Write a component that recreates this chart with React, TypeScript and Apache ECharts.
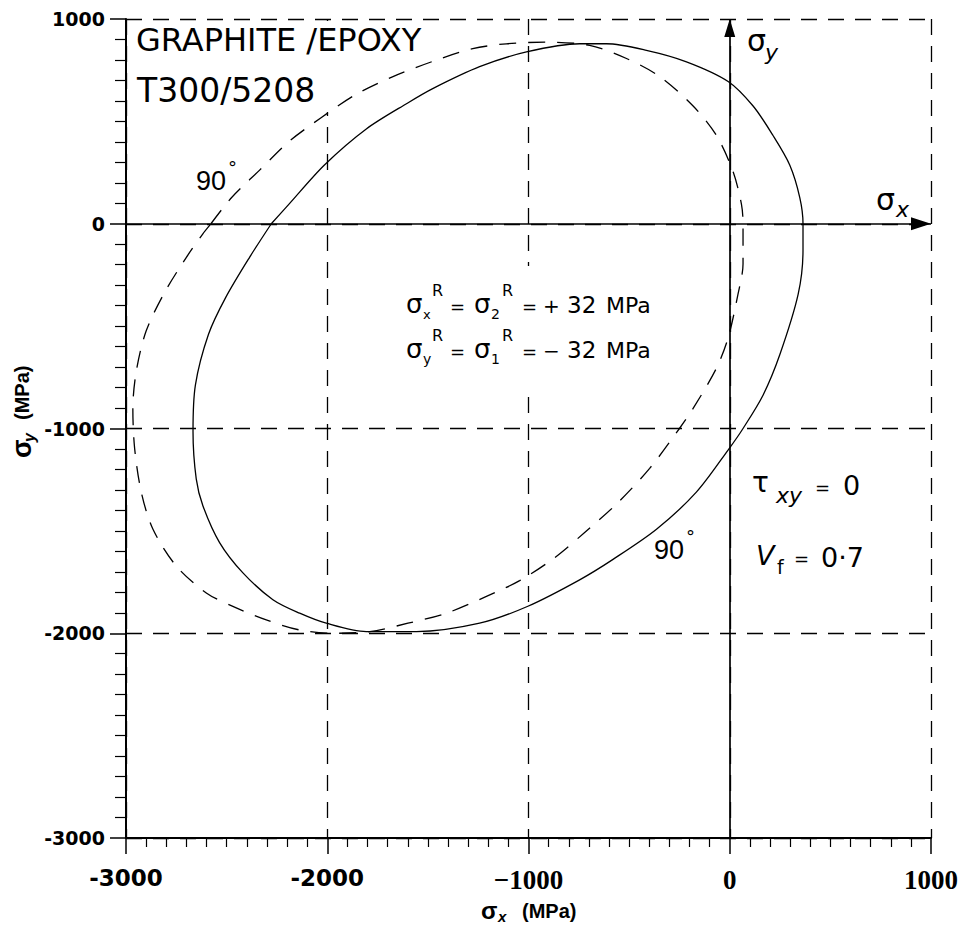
import React, { useEffect, useRef } from "react";
import * as echarts from "echarts";

// Axis tick values (MPa)
const xTicks = [-3000, -2000, -1000, 0, 1000];
const yTicks = [1000, 0, -1000, -2000, -3000];

// Failure envelope, solid curve [sigma_x, sigma_y] (MPa)
const solidCurve: [number, number][] = [
  [-2278, 0], [-2190, 96], [-2014, 287], [-1806, 463], [-1600, 590], [-1476, 660],
  [-1243, 767], [-1010, 839], [-746, 879], [-613, 879], [-414, 847], [-215, 791],
  [-8, 695], [116, 575], [215, 431], [298, 287], [348, 128], [364, 0], [364, -129],
  [340, -344], [249, -639], [166, -836], [66, -1000], [-3, -1098], [-166, -1311],
  [-364, -1492], [-580, -1639], [-746, -1739], [-1003, -1868], [-1243, -1951],
  [-1557, -1992], [-1806, -1992], [-2005, -1951], [-2137, -1902], [-2270, -1836],
  [-2419, -1705], [-2535, -1557], [-2618, -1377], [-2651, -1246], [-2667, -1016],
  [-2655, -787], [-2590, -540], [-2505, -361], [-2386, -164], [-2278, 0],
];

// Failure envelope, dashed curve [sigma_x, sigma_y] (MPa)
const dashedCurve: [number, number][] = [
  [-2578, 0], [-2475, 128], [-2336, 262], [-2192, 400], [-2029, 519], [-1860, 630],
  [-1682, 715], [-1470, 795], [-1277, 855], [-1110, 879], [-911, 887], [-696, 871],
  [-513, 807], [-348, 719], [-182, 575], [-66, 431], [16, 256], [58, 96], [66, 0],
  [66, -197], [41, -344], [-8, -557], [-66, -705], [-182, -902], [-250, -1000],
  [-398, -1195], [-563, -1369], [-721, -1508], [-870, -1631], [-1044, -1743],
  [-1209, -1820], [-1408, -1902], [-1599, -1951], [-1789, -1992], [-1972, -2000],
  [-2137, -1984], [-2303, -1935], [-2469, -1869], [-2601, -1803], [-2750, -1672],
  [-2866, -1492], [-2924, -1311], [-2957, -1098], [-2966, -902], [-2949, -721],
  [-2900, -524], [-2808, -335], [-2700, -164], [-2618, -49], [-2578, 0],
];

const FONT = "DejaVu Sans";
const LIB = "Liberation Sans";
const ARROW = "path://M5,20 L10,40 L0,40 Z M5,0 L5,0.01";

function txt(text: string, x: number, y: number, size: number, extra: any = {}) {
  return {
    type: "text",
    x,
    y,
    z: 100,
    style: {
      text,
      fontSize: size,
      fontFamily: FONT,
      fill: "#000",
      align: "left",
      verticalAlign: "middle",
      ...extra,
    },
  };
}

export default function App() {
  const ref = useRef<HTMLDivElement>(null);

  useEffect(() => {
    document.body.style.margin = "0";
    const chart = echarts.init(ref.current!, null, { renderer: "svg" });

    const xMin = xTicks[0];
    const xMax = xTicks[xTicks.length - 1];
    const yMin = yTicks[yTicks.length - 1];
    const yMax = yTicks[0];

    const gridDash = { color: "#000", width: 1.3, type: [16, 11] as any };

    const option: any = {
      animation: false,
      backgroundColor: "#fff",
      grid: { left: 126, right: 31, top: 19, bottom: 88, containLabel: false },
      xAxis: {
        type: "value",
        min: xMin,
        max: xMax,
        interval: 1000,
        axisLine: { show: true, onZero: false, lineStyle: { color: "#000", width: 2 } },
        axisTick: { show: true, inside: false, length: 16, lineStyle: { color: "#000", width: 1.5 } },
        minorTick: { show: true, splitNumber: 10, length: 9, lineStyle: { color: "#000", width: 1.2 } },
        splitLine: { show: true, lineStyle: gridDash },
        axisLabel: {
          margin: 28,
          color: "#000",
          formatter: (v: number) =>
            v <= -2000 ? `{a|${v}}` : `{b|${v < 0 ? "\u2212" + Math.abs(v) : v}}`,
          rich: {
            a: { fontFamily: FONT, fontWeight: "bold", fontSize: 23, color: "#000" },
            b: { fontFamily: "Liberation Serif", fontWeight: "bold", fontSize: 27, color: "#000" },
          },
        },
      },
      yAxis: {
        type: "value",
        min: yMin,
        max: yMax,
        interval: 1000,
        axisLine: { show: true, onZero: false, lineStyle: { color: "#000", width: 2 } },
        axisTick: { show: true, inside: false, length: 16, lineStyle: { color: "#000", width: 1.5 } },
        minorTick: { show: true, splitNumber: 10, length: 11, lineStyle: { color: "#000", width: 1.2 } },
        splitLine: { show: true, lineStyle: gridDash },
        axisLabel: {
          margin: 21,
          color: "#000",
          fontFamily: FONT,
          fontWeight: "bold",
          fontSize: 19,
          formatter: (v: number) => String(v),
        },
      },
      series: [
        {
          type: "line",
          data: solidCurve,
          smooth: 0.3,
          symbol: "none",
          z: 3,
          lineStyle: { color: "#000", width: 1.3 },
          markLine: {
            silent: true,
            symbol: ["none", "none"],
            label: { show: false },
            lineStyle: { color: "#000", width: 1.7, type: "solid" },
            data: [
              [
                { coord: [0, yMin], symbol: "none" },
                { coord: [0, yMax], symbol: ARROW, symbolSize: [11, 36] },
              ],
              [
                { coord: [xMin, 0], symbol: "none" },
                { coord: [xMax, 0], symbol: ARROW, symbolSize: [13, 40] },
              ],
            ],
          },
        },
        {
          type: "line",
          data: dashedCurve,
          smooth: 0.3,
          symbol: "none",
          z: 3,
          lineStyle: { color: "#000", width: 1.3, type: [17, 12] },
        },
      ],
      graphic: [
        // white gaps in the grid behind annotations
        { type: "rect", z: 1, shape: { x: 520, y: 266, width: 18, height: 123 }, style: { fill: "#fff" } },
        { type: "rect", z: 1, shape: { x: 320, y: 21, width: 16, height: 91 }, style: { fill: "#fff" } },

        // title
        txt("GRAPHITE /EPOXY", 136, 40, 32),
        txt("T300/5208", 137, 90, 33),

        // 90° labels
        txt("90", 196, 181, 27, { fontFamily: LIB }),
        txt("°", 228, 167, 18),
        txt("90", 654, 550, 27, { fontFamily: LIB }),
        txt("°", 686, 536, 18),

        // sigma_y axis label
        txt("σ", 747, 40, 30),
        txt("y", 765, 52, 22, { fontStyle: "italic" }),
        // sigma_x axis label
        txt("σ", 876, 199, 30),
        txt("x", 896, 209, 22, { fontStyle: "italic" }),

        // residual stress formula, line 1
        txt("σ", 406, 304, 26),
        txt("x", 423, 314, 13),
        txt("R", 432, 290, 16),
        txt("=", 450, 306, 18),
        txt("σ", 474, 304, 26),
        txt("2", 491, 314, 14),
        txt("R", 502, 290, 16),
        txt("=", 522, 306, 18),
        txt("+", 543, 306, 20),
        txt("32", 567, 305, 23),
        txt("MPa", 606, 305, 22),
        // line 2
        txt("σ", 406, 349, 26),
        txt("y", 423, 359, 14),
        txt("R", 432, 335, 16),
        txt("=", 450, 351, 18),
        txt("σ", 474, 349, 26),
        txt("1", 491, 359, 14),
        txt("R", 502, 335, 16),
        txt("=", 522, 351, 18),
        txt("\u2212", 543, 351, 20),
        txt("32", 567, 350, 23),
        txt("MPa", 606, 350, 22),

        // tau_xy = 0
        txt("τ", 752, 482, 28),
        txt("xy", 776, 495, 22, { fontStyle: "italic" }),
        txt("=", 815, 487, 18),
        txt("0", 843, 485, 27),
        // V_f = 0·7
        txt("V", 756, 555, 27, { fontStyle: "italic" }),
        txt("f", 777, 567, 19),
        txt("=", 794, 558, 18),
        txt("0·7", 821, 557, 27),

        // x axis name
        txt("σ", 481, 910, 24, { fontFamily: LIB, fontWeight: "bold" }),
        txt("x", 498, 916, 15, { fontFamily: LIB, fontWeight: "bold", fontStyle: "italic" }),
        txt("(MPa)", 522, 911, 20, { fontFamily: LIB, fontWeight: "bold" }),

        // y axis name (rotated)
        {
          type: "group",
          x: 22,
          y: 458,
          rotation: Math.PI / 2,
          z: 100,
          children: [
            txt("σ", 0, 0, 27, { fontFamily: LIB, fontWeight: "bold" }),
            txt("y", 16, 7, 16, { fontFamily: LIB, fontWeight: "bold", fontStyle: "italic" }),
            txt("(MPa)", 38, 0, 20, { fontFamily: LIB, fontWeight: "bold" }),
          ],
        },
      ],
    };

    chart.setOption(option);
    return () => chart.dispose();
  }, []);

  return <div ref={ref} style={{ width: 962, height: 926 }} />;
}
